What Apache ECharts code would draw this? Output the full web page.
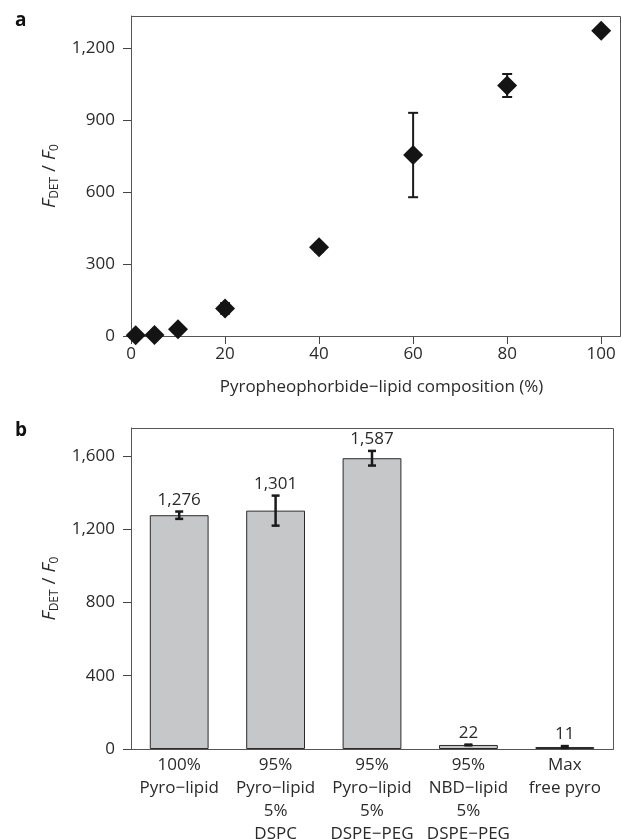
<!DOCTYPE html>
<html>
<head>
<meta charset="utf-8">
<title>FDET/F0</title>
<script src="https://cdn.jsdelivr.net/npm/echarts@6/dist/echarts.min.js"></script>
<style>
html,body{margin:0;padding:0;background:#fff;}
#main{width:622px;height:839px;}
</style>
</head>
<body>
<div id="main"></div>
<script>
// panel a : composition vs ratio
var compPct = [1, 5, 10, 20, 40, 60, 80, 100];
var ratioA = [3, 4, 28, 115, 370, 755, 1045, 1273];
var errA = [3, 3, 6, 22, 18, 176, 48, 12];
var ticksA = [0, 300, 600, 900, 1200];
var ticksAx = [0, 20, 40, 60, 80, 100];

// panel b : formulations
var formulations = [
	"100%\nPyro\u2212lipid",
	"95%\nPyro\u2212lipid\n5%\nDSPC",
	"95%\nPyro\u2212lipid\n5%\nDSPE\u2212PEG",
	"95%\nNBD\u2212lipid\n5%\nDSPE\u2212PEG",
	"Max\nfree pyro"
];
var ratioB = [1276, 1301, 1587, 22, 11];
var errB = [20, 82, 40, 2, 5];
var ticksB = [0, 400, 800, 1200, 1600];

var FONT = "Open Sans";
var TXT = "#2a2a2a";
var AX = "#444";

// grid boxes
var gA = {left: 131, top: 16, width: 489, height: 320};
var gB = {left: 131, top: 428, width: 482, height: 321};

function fmt(v){
	return Number(v).toLocaleString("en-US");
}

var yName = {
	rich: {
		i: {fontFamily: FONT, fontStyle: "italic", fontSize: 19, color: TXT},
		s: {fontFamily: FONT, fontSize: 12, color: TXT, padding: [11, 0, 0, 0]},
		n: {fontFamily: FONT, fontSize: 19, color: TXT}
	}
};

// box round a plot area, using the grid's own rect
function frameSeries(idx){
	return {
		type: "custom", xAxisIndex: idx, yAxisIndex: idx, z: 1, silent: true, clip: false,
		data: [0],
		renderItem: function(params, api){
			var r = params.coordSys;
			return {type: "rect",
				shape: {x: r.x + 0.5, y: r.y + 0.5, width: r.width, height: r.height},
				style: {fill: "none", stroke: "#555", lineWidth: 1}};
		}
	};
}

var myChart = echarts.init(document.getElementById("main"), null, {renderer: "canvas"});

var option = {
	animation: false,
	backgroundColor: "#fff",
	textStyle: {fontFamily: FONT},
	graphic: [
		{type: "text", left: 15, top: 11, style: {text: "a", font: "bold 19px " + FONT, fill: "#111"}},
		{type: "text", left: 15, top: 421, style: {text: "b", font: "bold 19px " + FONT, fill: "#111"}}
	],
	grid: [
		{left: gA.left, top: gA.top, width: gA.width, height: gA.height, outerBoundsMode: "none"},
		{left: gB.left, top: gB.top, width: gB.width, height: gB.height, outerBoundsMode: "none"}
	],
	xAxis: [
		{
			gridIndex: 0, type: "value", min: 0, max: 104, interval: 20,
			name: "Pyropheophorbide\u2212lipid composition (%)",
			nameLocation: "middle", nameGap: 43,
			nameTextStyle: {fontFamily: FONT, fontSize: 17, color: TXT, padding: [0, 0, 0, 12]},
			axisLine: {onZero: false, lineStyle: {color: AX, width: 1}},
			axisTick: {show: true, length: 8, customValues: ticksAx, lineStyle: {color: AX}},
			axisLabel: {fontFamily: FONT, fontSize: 17, color: TXT, margin: 10, customValues: ticksAx},
			splitLine: {show: false}
		},
		{
			gridIndex: 1, type: "category", data: formulations,
			axisLine: {lineStyle: {color: AX, width: 1}},
			axisTick: {show: false},
			axisLabel: {fontFamily: FONT, fontSize: 17, color: TXT, lineHeight: 23, margin: 5, interval: 0},
			splitLine: {show: false}
		}
	],
	yAxis: [
		{
			gridIndex: 0, type: "value", min: 0, max: 1335, interval: 300,
			name: "{i|F}{s|DET}{n| / }{i|F}{s|0}",
			nameLocation: "middle", nameGap: 69, nameRotate: 90,
			nameTextStyle: yName,
			axisLine: {show: true, onZero: false, lineStyle: {color: AX, width: 1}},
			axisTick: {show: true, length: 8, customValues: ticksA, lineStyle: {color: AX}},
			axisLabel: {fontFamily: FONT, fontSize: 17, color: TXT, margin: 16, customValues: ticksA,
				formatter: function(v){ return fmt(v); }},
			splitLine: {show: false}
		},
		{
			gridIndex: 1, type: "value", min: 0, max: 1752, interval: 400,
			name: "{i|F}{s|DET}{n| / }{i|F}{s|0}",
			nameLocation: "middle", nameGap: 69, nameRotate: 90,
			nameTextStyle: yName,
			axisLine: {show: true, onZero: false, lineStyle: {color: AX, width: 1}},
			axisTick: {show: true, length: 8, customValues: ticksB, lineStyle: {color: AX}},
			axisLabel: {fontFamily: FONT, fontSize: 17, color: TXT, margin: 16, customValues: ticksB,
				formatter: function(v){ return fmt(v); }},
			splitLine: {show: false}
		}
	],
	series: [
		frameSeries(0),
		frameSeries(1),
		// error bars of panel a
		{
			type: "custom", xAxisIndex: 0, yAxisIndex: 0, z: 2,
			data: compPct.map(function(x, i){ return [x, ratioA[i], errA[i]]; }),
			renderItem: function(params, api){
				var x = api.value(0), y = api.value(1), e = api.value(2);
				var hi = api.coord([x, y + e]);
				var lo = api.coord([x, y - e]);
				var st = {stroke: "#1a1a1a", lineWidth: 2};
				return {type: "group", children: [
					{type: "line", shape: {x1: hi[0], y1: hi[1], x2: lo[0], y2: lo[1]}, style: st},
					{type: "line", shape: {x1: hi[0] - 5, y1: hi[1], x2: hi[0] + 5, y2: hi[1]}, style: st},
					{type: "line", shape: {x1: lo[0] - 5, y1: lo[1], x2: lo[0] + 5, y2: lo[1]}, style: st}
				]};
			}
		},
		{
			type: "scatter", xAxisIndex: 0, yAxisIndex: 0, z: 3,
			symbol: "diamond", symbolSize: 20,
			itemStyle: {color: "#141414", opacity: 1},
			data: compPct.map(function(x, i){ return [x, ratioA[i]]; })
		},
		// bars of panel b
		{
			type: "bar", xAxisIndex: 1, yAxisIndex: 1, z: 2,
			barWidth: "61%",
			itemStyle: {color: "#c6c7c9", borderColor: "#2b2b2b", borderWidth: 1},
			data: ratioB
		},
		// error bars and value labels of panel b
		{
			type: "custom", xAxisIndex: 1, yAxisIndex: 1, z: 4,
			data: ratioB.map(function(v, i){ return [i, v, errB[i]]; }),
			renderItem: function(params, api){
				var c = api.value(0), y = api.value(1), e = api.value(2);
				var hi = api.coord([c, y + e]);
				var lo = api.coord([c, Math.max(y - e, 0)]);
				var st = {stroke: "#1a1a1a", lineWidth: 2.5};
				return {type: "group", children: [
					{type: "line", shape: {x1: hi[0], y1: hi[1], x2: lo[0], y2: lo[1]}, style: st},
					{type: "line", shape: {x1: hi[0] - 4, y1: hi[1], x2: hi[0] + 4, y2: hi[1]}, style: st},
					{type: "line", shape: {x1: lo[0] - 4, y1: lo[1], x2: lo[0] + 4, y2: lo[1]}, style: st},
					{type: "text", style: {x: hi[0], y: hi[1] - 3, text: fmt(y), align: "center", verticalAlign: "bottom",
						font: "17px " + FONT, fill: TXT}}
				]};
			}
		}
	]
};

myChart.setOption(option);
</script>
</body>
</html>
